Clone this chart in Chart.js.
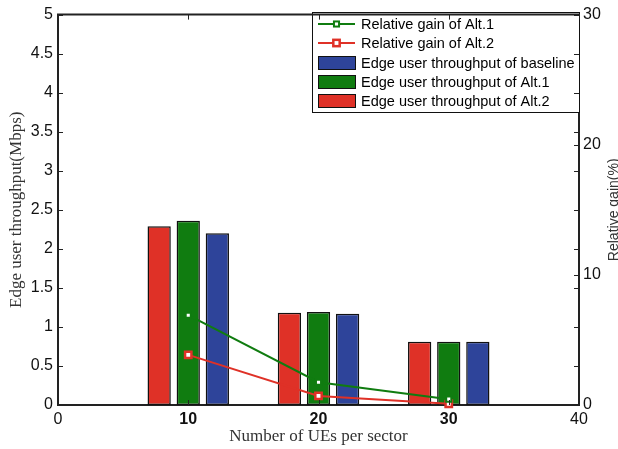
<!DOCTYPE html>
<html>
<head>
<meta charset="utf-8">
<script src="https://cdn.jsdelivr.net/npm/chart.js@4/dist/chart.umd.min.js"></script>
<style>
  html, body { margin: 0; padding: 0; background: #fff; }
  #wrap { width: 618px; height: 449px; }
</style>
</head>
<body>
<div id="wrap"><canvas id="chart" width="618" height="449"></canvas></div>
<script>
// values
const ueCounts = [10, 20, 30];
const tputBaseline = [2.20, 1.17, 0.81];
const tputAlt1 = [2.36, 1.19, 0.81];
const tputAlt2 = [2.29, 1.18, 0.81];
const gainAlt1 = [6.9, 1.75, 0.45];
const gainAlt2 = [3.85, 0.7, 0.1];

const xRange = [0, 40];
const tputRange = [0, 5];
const gainRange = [0, 30];

const RED = '#df3127';
const GREEN = '#107c10';
const BLUE = '#2e449a';

const toPoints = vals => ueCounts.map((u, i) => ({ x: u, y: vals[i] }));

// legend rows in the order they are listed in the box (dataset indexes)
const legendOrder = [0, 1, 4, 3, 2];

const legendBox = {
    id: 'legendBox',
    afterDatasetsDraw(chart) {
        const ctx = chart.ctx;
        const ds = chart.data.datasets;
        const bx = 312, by = 12, bw = 267, bh = 100;
        ctx.save();
        ctx.fillStyle = '#fff';
        ctx.fillRect(bx, by, bw, bh);
        ctx.strokeStyle = '#111';
        ctx.lineWidth = 1;
        ctx.strokeRect(bx + 0.5, by + 0.5, bw, bh);
        ctx.font = '14.5px "Liberation Sans", Arial, sans-serif';
        ctx.textBaseline = 'middle';
        legendOrder.forEach((idx, row) => {
            const d = ds[idx];
            const ry = Math.round(24 + row * 19.3);
            if (d.type === 'line') {
                ctx.strokeStyle = d.borderColor;
                ctx.lineWidth = 2;
                ctx.beginPath();
                ctx.moveTo(318, ry);
                ctx.lineTo(355, ry);
                ctx.stroke();
                const s = d.pointRadius * 1.414;
                ctx.fillStyle = '#fff';
                ctx.lineWidth = d.pointBorderWidth;
                ctx.fillRect(336.5 - s / 2, ry - s / 2, s, s);
                ctx.strokeRect(336.5 - s / 2, ry - s / 2, s, s);
            } else {
                ctx.fillStyle = d.backgroundColor;
                ctx.fillRect(318, ry - 7, 37, 14);
                ctx.strokeStyle = '#111';
                ctx.lineWidth = 1;
                ctx.strokeRect(318.5, ry - 6.5, 37, 13);
            }
            ctx.fillStyle = '#000';
            ctx.fillText(d.label, 361, ry + 1);
        });
        ctx.restore();
    }
};

// MATLAB style inward ticks, top box line and the two y titles
const axesDecor = {
    id: 'axesDecor',
    afterDraw(chart) {
        const { ctx, chartArea: a, scales: { x, y, y1 } } = chart;
        const len = 5;
        ctx.save();
        ctx.strokeStyle = '#222';
        ctx.lineWidth = 1;
        const seg = (x1, y1p, x2, y2p) => {
            ctx.beginPath();
            ctx.moveTo(x1, y1p);
            ctx.lineTo(x2, y2p);
            ctx.stroke();
        };
        y.ticks.forEach(t => {
            const p = Math.round(y.getPixelForValue(t.value)) + 0.5;
            seg(a.left, p, a.left + len, p);
            seg(a.right, p, a.right - len, p);
        });
        y1.ticks.forEach(t => {
            const p = Math.round(y1.getPixelForValue(t.value)) + 0.5;
            seg(a.right, p, a.right - len, p);
        });
        x.ticks.forEach(t => {
            const p = Math.round(x.getPixelForValue(t.value)) + 0.5;
            seg(p, a.bottom, p, a.bottom - len);
            seg(p, a.top, p, a.top + len);
        });
        ctx.lineWidth = 2;
        seg(a.left - 1, a.top, a.right + 1, a.top);

        // both y titles centred on the plot height, like the original
        const midY = (a.top + a.bottom) / 2;
        ctx.fillStyle = '#333';
        ctx.textAlign = 'center';
        ctx.font = '17px "Liberation Serif", "Times New Roman", serif';
        ctx.textBaseline = 'middle';
        ctx.translate(17, midY);
        ctx.rotate(-Math.PI / 2);
        ctx.fillText('Edge user throughput(Mbps)', 0, 0);
        ctx.setTransform(1, 0, 0, 1, 0, 0);
        ctx.font = '14px "Liberation Sans", Arial, sans-serif';
        ctx.textBaseline = 'alphabetic';
        ctx.translate(618, midY);
        ctx.rotate(-Math.PI / 2);
        ctx.fillText('Relative gain(%)', 0, 0);
        ctx.restore();
    }
};

const tickFont = { family: '"Liberation Sans", Arial, sans-serif', size: 16 };

new Chart(document.getElementById('chart'), {
    type: 'bar',
    data: {
        datasets: [
            {
                type: 'line',
                label: 'Relative gain of Alt.1',
                data: toPoints(gainAlt1),
                yAxisID: 'y1',
                borderColor: GREEN,
                borderWidth: 2,
                pointStyle: 'rect',
                pointRadius: 3.6,
                pointBorderWidth: 2,
                pointBackgroundColor: '#fff',
                pointBorderColor: GREEN,
                tension: 0,
                clip: false
            },
            {
                type: 'line',
                label: 'Relative gain of Alt.2',
                data: toPoints(gainAlt2),
                yAxisID: 'y1',
                borderColor: RED,
                borderWidth: 2,
                pointStyle: 'rect',
                pointRadius: 4.5,
                pointBorderWidth: 2.5,
                pointBackgroundColor: '#fff',
                pointBorderColor: RED,
                tension: 0,
                clip: false
            },
            {
                label: 'Edge user throughput of Alt.2',
                data: toPoints(tputAlt2),
                backgroundColor: RED,
                borderColor: '#111',
                borderWidth: 1.5,
                borderSkipped: false,
                yAxisID: 'y'
            },
            {
                label: 'Edge user throughput of Alt.1',
                data: toPoints(tputAlt1),
                backgroundColor: GREEN,
                borderColor: '#111',
                borderWidth: 1.5,
                borderSkipped: false,
                yAxisID: 'y'
            },
            {
                label: 'Edge user throughput of baseline',
                data: toPoints(tputBaseline),
                backgroundColor: BLUE,
                borderColor: '#111',
                borderWidth: 1.5,
                borderSkipped: false,
                yAxisID: 'y'
            }
        ]
    },
    options: {
        responsive: false,
        animation: false,
        categoryPercentage: 0.67,
        barPercentage: 0.8,
        layout: { padding: { top: 12, left: 0, right: 0, bottom: 0 } },
        plugins: { legend: { display: false }, tooltip: { enabled: false } },
        scales: {
            x: {
                type: 'linear',
                offset: false,
                min: xRange[0],
                max: xRange[1],
                grid: { display: false, drawTicks: false, offset: false },
                border: { color: '#222', width: 2 },
                ticks: {
                    stepSize: 10,
                    padding: 5,
                    color: '#111',
                    font: ctx => ({ ...tickFont, weight: (ctx.tick && ctx.tick.value > 0 && ctx.tick.value < 40) ? 'bold' : 'normal' })
                },
                title: {
                    display: true,
                    text: 'Number of UEs per sector',
                    color: '#333',
                    font: { family: '"Liberation Serif", "Times New Roman", serif', size: 17 },
                    padding: { top: 0, bottom: 2 }
                },
                afterFit: s => { s.height = 44; }
            },
            y: {
                position: 'left',
                min: tputRange[0],
                max: tputRange[1],
                grid: { display: false, drawTicks: false },
                border: { color: '#222', width: 2 },
                ticks: {
                    stepSize: 0.5,
                    padding: 5,
                    color: '#111',
                    font: tickFont,
                    callback: v => String(+v.toFixed(1))
                },
                afterFit: s => { s.width = 58; }
            },
            y1: {
                position: 'right',
                min: gainRange[0],
                max: gainRange[1],
                grid: { display: false, drawTicks: false },
                border: { color: '#222', width: 2 },
                ticks: { stepSize: 10, padding: 4, color: '#111', font: tickFont },
                afterFit: s => { s.width = 39; }
            }
        }
    },
    plugins: [legendBox, axesDecor]
});
</script>
</body>
</html>
